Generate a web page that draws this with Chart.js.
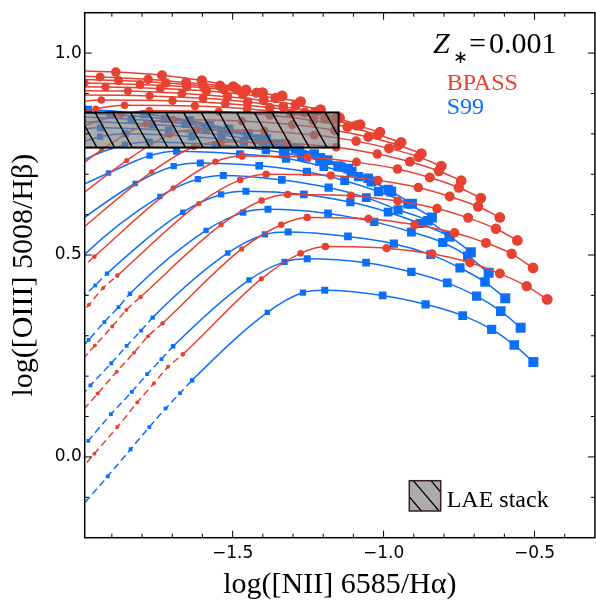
<!DOCTYPE html>
<html>
<head>
<meta charset="utf-8">
<script src="https://cdn.jsdelivr.net/npm/chart.js@4.4.1/dist/chart.umd.min.js"></script>
<style>
  html, body { margin: 0; padding: 0; background: #fff; overflow: hidden; }
  canvas { display: block; }
</style>
</head>
<body>
<canvas id="bpt" width="602" height="603"></canvas>
<script>
// BPASS model tracks (red), [log NII/Ha, log OIII/Hb], lowest track first
const bpass1 = [[-2.03,-0.055],[-1.958,0.008],[-1.882,0.074],[-1.816,0.135],[-1.761,0.182],[-1.714,0.223],[-1.665,0.254],[-1.405,0.441],[-1.275,0.504],[-1.193,0.521],[-0.990,0.517],[-0.840,0.503],[-0.714,0.481],[-0.615,0.454],[-0.526,0.423],[-0.458,0.390]];
const bpass2 = [[-2.017,0.098],[-1.947,0.157],[-1.884,0.211],[-1.827,0.258],[-1.780,0.299],[-1.732,0.331],[-1.470,0.515],[-1.339,0.575],[-1.253,0.593],[-1.050,0.590],[-0.897,0.575],[-0.765,0.555],[-0.661,0.530],[-0.576,0.503],[-0.505,0.468]];
const bpass3 = [[-2.020,0.222],[-1.956,0.276],[-1.899,0.323],[-1.852,0.364],[-1.805,0.396],[-1.538,0.575],[-1.404,0.635],[-1.318,0.650],[-1.108,0.647],[-0.953,0.634],[-0.823,0.615],[-0.720,0.592],[-0.628,0.565],[-0.557,0.536]];
const bpass4 = [[-2.033,0.330],[-1.976,0.377],[-1.929,0.418],[-1.882,0.449],[-1.612,0.627],[-1.475,0.686],[-1.389,0.700],[-1.175,0.697],[-1.018,0.685],[-0.885,0.667],[-0.781,0.645],[-0.687,0.620],[-0.615,0.593]];
const bpass5 = [[-2.006,0.464],[-1.958,0.496],[-1.697,0.666],[-1.557,0.731],[-1.469,0.745],[-1.251,0.742],[-1.090,0.730],[-0.954,0.713],[-0.847,0.692],[-0.751,0.667],[-0.678,0.641]];
const bpass6 = [[-2.034,0.543],[-1.768,0.706],[-1.628,0.768],[-1.538,0.780],[-1.319,0.777],[-1.157,0.767],[-1.021,0.750],[-0.913,0.731],[-0.817,0.708],[-0.743,0.684]];
const bpass7 = [[-2.113,0.583],[-1.851,0.734],[-1.708,0.798],[-1.618,0.810],[-1.395,0.807],[-1.230,0.797],[-1.091,0.782],[-0.982,0.764],[-0.884,0.743],[-0.809,0.720]];
const bpass8 = [[-2.195,0.607],[-1.933,0.761],[-1.788,0.824],[-1.696,0.835],[-1.470,0.832],[-1.302,0.823],[-1.162,0.809],[-1.051,0.792],[-0.951,0.772],[-0.875,0.751]];
const bpass9 = [[-2.280,0.660],[-2.017,0.810],[-1.870,0.847],[-1.776,0.857],[-1.546,0.855],[-1.376,0.846],[-1.233,0.833],[-1.120,0.817],[-1.019,0.798],[-0.942,0.779]];
const bpass10 = [[-2.102,0.830],[-1.953,0.862],[-1.858,0.871],[-1.625,0.869],[-1.452,0.862],[-1.307,0.850],[-1.193,0.837],[-1.090,0.821],[-1.012,0.804]];
const bpass11 = [[-2.183,0.847],[-2.032,0.876],[-1.935,0.884],[-1.699,0.882],[-1.524,0.875],[-1.377,0.865],[-1.261,0.853],[-1.158,0.838],[-1.078,0.823]];
const bpass12 = [[-2.113,0.889],[-2.015,0.896],[-1.775,0.894],[-1.598,0.888],[-1.450,0.879],[-1.332,0.867],[-1.227,0.854],[-1.146,0.840]];
const bpass13 = [[-2.189,0.901],[-2.090,0.907],[-1.847,0.906],[-1.668,0.900],[-1.517,0.892],[-1.397,0.883],[-1.291,0.872],[-1.209,0.860]];
const bpass14 = [[-2.167,0.917],[-1.921,0.916],[-1.740,0.912],[-1.587,0.906],[-1.466,0.898],[-1.358,0.889],[-1.275,0.880]];
const bpass15 = [[-2.240,0.927],[-1.991,0.926],[-1.807,0.922],[-1.652,0.917],[-1.529,0.910],[-1.420,0.902],[-1.336,0.894]];
const bpass16 = [[-2.317,0.937],[-2.064,0.936],[-1.878,0.932],[-1.721,0.926],[-1.597,0.919],[-1.486,0.911],[-1.401,0.902]];
const bpass17 = [[-2.383,0.946],[-2.128,0.945],[-1.939,0.941],[-1.780,0.935],[-1.654,0.927],[-1.542,0.919],[-1.456,0.909]];
const bpass18 = [[-2.200,0.956],[-2.030,0.956],[-1.887,0.953],[-1.734,0.945],[-1.602,0.932],[-1.498,0.917]];

// Starburst99 model tracks (blue)
const s99_1 = [[-2.06,-0.174],[-1.914,-0.048],[-1.838,0.019],[-1.776,0.074],[-1.722,0.120],[-1.674,0.158],[-1.634,0.190],[-1.385,0.358],[-1.267,0.407],[-1.195,0.413],[-1.003,0.400],[-0.861,0.378],[-0.738,0.350],[-0.642,0.316],[-0.567,0.277],[-0.504,0.235]];
const s99_2 = [[-2.05,-0.023],[-1.978,0.040],[-1.903,0.106],[-1.834,0.161],[-1.783,0.205],[-1.736,0.242],[-1.697,0.274],[-1.446,0.438],[-1.328,0.483],[-1.253,0.491],[-1.058,0.481],[-0.908,0.458],[-0.789,0.431],[-0.692,0.398],[-0.612,0.361],[-0.546,0.320]];
const s99_3 = [[-2.046,0.110],[-1.971,0.177],[-1.902,0.232],[-1.851,0.275],[-1.803,0.313],[-1.765,0.345],[-1.516,0.505],[-1.393,0.551],[-1.316,0.557],[-1.118,0.546],[-0.966,0.528],[-0.844,0.501],[-0.747,0.468],[-0.664,0.433],[-0.597,0.393]];
const s99_4 = [[-2.046,0.235],[-1.977,0.290],[-1.925,0.334],[-1.878,0.371],[-1.840,0.404],[-1.588,0.561],[-1.465,0.605],[-1.383,0.613],[-1.184,0.603],[-1.031,0.582],[-0.908,0.557],[-0.804,0.531],[-0.721,0.497],[-0.652,0.456]];
const s99_5 = [[-2.003,0.392],[-1.955,0.425],[-1.916,0.454],[-1.665,0.606],[-1.538,0.650],[-1.456,0.658],[-1.264,0.650],[-1.110,0.631],[-0.985,0.606],[-0.879,0.578],[-0.782,0.546],[-0.711,0.507]];
const s99_6 = [[-2.033,0.466],[-1.994,0.499],[-1.741,0.645],[-1.615,0.688],[-1.531,0.697],[-1.337,0.686],[-1.182,0.667],[-1.057,0.642],[-0.952,0.612],[-0.853,0.585],[-0.781,0.546]];
const s99_7 = [[-2.070,0.551],[-1.823,0.677],[-1.695,0.720],[-1.607,0.728],[-1.412,0.721],[-1.254,0.706],[-1.129,0.684],[-1.017,0.657],[-0.919,0.627],[-0.840,0.593]];
const s99_8 = [[-2.150,0.620],[-1.911,0.703],[-1.775,0.746],[-1.686,0.757],[-1.476,0.750],[-1.323,0.739],[-1.198,0.719],[-1.083,0.694],[-0.985,0.662],[-0.906,0.627]];
const s99_9 = [[-2.250,0.620],[-2.000,0.733],[-1.857,0.773],[-1.776,0.780],[-1.557,0.773],[-1.390,0.760],[-1.256,0.742],[-1.141,0.718],[-1.051,0.690],[-0.975,0.657]];
const s99_10 = [[-2.085,0.755],[-1.939,0.793],[-1.856,0.800],[-1.634,0.793],[-1.463,0.781],[-1.326,0.763],[-1.209,0.741],[-1.117,0.714],[-1.040,0.682]];
const s99_11 = [[-2.171,0.774],[-2.022,0.808],[-1.938,0.815],[-1.711,0.808],[-1.537,0.797],[-1.398,0.781],[-1.279,0.760],[-1.185,0.735],[-1.106,0.706]];
const s99_12 = [[-2.235,0.788],[-2.083,0.823],[-1.997,0.830],[-1.766,0.823],[-1.589,0.812],[-1.447,0.796],[-1.326,0.775],[-1.230,0.750],[-1.150,0.720]];
const s99_13 = [[-2.156,0.836],[-2.069,0.843],[-1.835,0.836],[-1.656,0.825],[-1.511,0.809],[-1.388,0.788],[-1.291,0.763],[-1.210,0.733]];
const s99_14 = [[-2.145,0.855],[-1.906,0.848],[-1.724,0.837],[-1.577,0.821],[-1.451,0.800],[-1.353,0.775],[-1.270,0.745]];
const s99_15 = [[-2.220,0.867],[-1.978,0.860],[-1.792,0.849],[-1.642,0.833],[-1.515,0.812],[-1.414,0.787],[-1.330,0.757]];

// LAE stack measurement (shaded box)
const laeStackX = [-2.05, -1.149];
const laeStackY = [0.766, 0.853];

const xTicks = [-1.5, -1.0, -0.5];
const yTicks = [0.0, 0.5, 1.0];

const RED = 'rgb(231,65,49)';
const BLUE = 'rgb(12,111,250)';
const BOX_FILL = 'rgba(128,128,128,0.65)';

const bpassTracks = [bpass1, bpass2, bpass3, bpass4, bpass5, bpass6, bpass7, bpass8, bpass9,
  bpass10, bpass11, bpass12, bpass13, bpass14, bpass15, bpass16, bpass17, bpass18];
const s99Tracks = [s99_1, s99_2, s99_3, s99_4, s99_5, s99_6, s99_7, s99_8, s99_9,
  s99_10, s99_11, s99_12, s99_13, s99_14, s99_15];

// marker size grows along each track (counted from the track's last point)
const dotR = [5.4, 5.2, 5.0, 4.8, 4.5, 4.2, 3.8, 3.3, 2.6, 2.3];
const sqSide = [10, 9.6, 9.2, 8.8, 8.3, 7.7, 7, 6.3, 5.4, 4.4];

function markerRadius(style, k) {
  if (style === 'rect') return (k < sqSide.length ? sqSide[k] : 3.8) * Math.SQRT1_2;
  return k < dotR.length ? dotR[k] : 2.0;
}

function track(points, color, style) {
  const n = points.length;
  return {
    data: points.map(p => ({ x: p[0], y: p[1] })),
    borderColor: color,
    backgroundColor: color,
    borderWidth: 1.5,
    fill: false,
    pointStyle: style,
    pointBackgroundColor: color,
    pointBorderWidth: 0,
    pointRadius: ctx => markerRadius(style, n - 1 - ctx.dataIndex),
    cubicInterpolationMode: 'monotone',
    segment: {
      borderDash: ctx => (n - 1 - ctx.p0DataIndex) >= 10 ? [7, 4] : undefined
    }
  };
}

function hatch(ctx, x0, y0, w, h, anchor, gap, slant, width) {
  ctx.save();
  ctx.beginPath();
  ctx.rect(x0, y0, w, h);
  ctx.clip();
  ctx.beginPath();
  let sx = anchor;
  while (sx > x0 - h * slant) sx -= gap;
  for (; sx < x0 + w; sx += gap) {
    ctx.moveTo(sx, y0);
    ctx.lineTo(sx + h * slant, y0 + h);
  }
  ctx.strokeStyle = '#000';
  ctx.lineWidth = width;
  ctx.stroke();
  ctx.restore();
}

const fmt = v => (v < 0 ? '\u2212' : '') + Math.abs(v).toFixed(1);

const framePlugin = {
  id: 'frame',
  afterDatasetsDraw(chart) {
    const { ctx, chartArea: a, scales: { x, y } } = chart;
    const bx0 = x.getPixelForValue(laeStackX[0]);
    const bx1 = x.getPixelForValue(laeStackX[1]);
    const by0 = y.getPixelForValue(laeStackY[1]);
    const by1 = y.getPixelForValue(laeStackY[0]);
    ctx.save();
    ctx.beginPath();
    ctx.rect(a.left, a.top, a.right - a.left, a.bottom - a.top);
    ctx.clip();
    ctx.fillStyle = BOX_FILL;
    ctx.fillRect(bx0, by0, bx1 - bx0, by1 - by0);
    hatch(ctx, bx0, by0, bx1 - bx0, by1 - by0, a.left + 10.3, 17.7, 0.56, 1.4);
    ctx.lineWidth = 2;
    ctx.strokeStyle = '#000';
    ctx.strokeRect(bx0, by0, bx1 - bx0, by1 - by0);
    ctx.restore();
  },
  afterDraw(chart) {
    const { ctx, chartArea: a, scales: { x, y } } = chart;
    ctx.save();
    // inward ticks on all four sides
    ctx.strokeStyle = '#000';
    ctx.lineWidth = 1;
    ctx.beginPath();
    for (let i = -25; i <= 0; i++) {
      const v = i / 10;
      if (v <= x.min + 1e-9 || v >= x.max - 1e-9) continue;
      const px = x.getPixelForValue(v);
      const len = xTicks.some(t => Math.abs(t - v) < 1e-6) ? 7 : 4;
      ctx.moveTo(px, a.bottom); ctx.lineTo(px, a.bottom - len);
      ctx.moveTo(px, a.top); ctx.lineTo(px, a.top + len);
    }
    for (let i = -5; i <= 15; i++) {
      const v = i / 10;
      if (v <= y.min + 1e-9 || v >= y.max - 1e-9) continue;
      const py = y.getPixelForValue(v);
      const len = yTicks.some(t => Math.abs(t - v) < 1e-6) ? 7 : 4;
      ctx.moveTo(a.left, py); ctx.lineTo(a.left + len, py);
      ctx.moveTo(a.right, py); ctx.lineTo(a.right - len, py);
    }
    ctx.stroke();
    ctx.lineWidth = 1.5;
    ctx.strokeRect(a.left, a.top, a.right - a.left, a.bottom - a.top);

    // annotations
    ctx.textAlign = 'left';
    ctx.textBaseline = 'alphabetic';
    ctx.fillStyle = '#000';
    ctx.font = 'italic 30px "Liberation Serif"';
    ctx.fillText('Z', 433, 53);
    ctx.font = '18px "DejaVu Sans"';
    ctx.fillText('\u2217', 453, 63);
    ctx.font = '30px "Liberation Serif"';
    ctx.fillText('=', 469, 53);
    ctx.fillText('0.001', 489, 53);
    ctx.font = '24px "Liberation Serif"';
    ctx.fillStyle = RED;
    ctx.fillText('BPASS', 446.7, 89.5);
    ctx.fillStyle = BLUE;
    ctx.fillText('S99', 446.7, 113.5);

    // legend entry for the LAE stack
    const lx = 409.3, ly = 480.7, lw = 31.4, lh = 30.3;
    ctx.fillStyle = BOX_FILL;
    ctx.fillRect(lx, ly, lw, lh);
    hatch(ctx, lx, ly, lw, lh, lx + 4, 17.7, 0.85, 1.3);
    ctx.strokeStyle = '#3c1e1e';
    ctx.lineWidth = 1.5;
    ctx.strokeRect(lx, ly, lw, lh);
    ctx.fillStyle = '#000';
    ctx.font = '24px "Liberation Serif"';
    ctx.fillText('LAE stack', 446.7, 507);
    ctx.restore();
  }
};

const datasets = bpassTracks.map(t => track(t, RED, 'circle'))
  .concat(s99Tracks.map(t => track(t, BLUE, 'rect')));

new Chart(document.getElementById('bpt'), {
  type: 'line',
  data: { datasets: datasets },
  options: {
    responsive: false,
    animation: false,
    events: [],
    layout: { padding: { left: 0, top: 12.7, right: 3.5, bottom: 0 } },
    plugins: { legend: { display: false }, tooltip: { enabled: false } },
    scales: {
      x: {
        type: 'linear',
        min: -1.99,
        max: -0.3,
        afterBuildTicks: s => { s.ticks = xTicks.map(v => ({ value: v })); },
        afterFit: s => { s.height = 65.3; },
        grid: { display: false, drawTicks: false },
        border: { display: false },
        ticks: { font: { family: 'DejaVu Sans', size: 17 }, color: '#000', padding: 6, maxRotation: 0, autoSkip: false, callback: fmt },
        title: { display: true, text: 'log([NII] 6585/H\u03b1)', color: '#000', font: { family: 'Liberation Serif', size: 30 }, padding: { top: 0, bottom: 0 } }
      },
      y: {
        type: 'linear',
        min: -0.2,
        max: 1.1,
        afterBuildTicks: s => { s.ticks = yTicks.map(v => ({ value: v })); },
        afterFit: s => { s.width = 84.7; },
        grid: { display: false, drawTicks: false },
        border: { display: false },
        ticks: { font: { family: 'DejaVu Sans', size: 17, lineHeight: 1 }, color: '#000', padding: 3, callback: fmt },
        title: { display: true, text: 'log([OIII] 5008/H\u03b2)', color: '#000', font: { family: 'Liberation Serif', size: 30 }, padding: { top: 6, bottom: 0 } }
      }
    }
  },
  plugins: [framePlugin]
});
</script>
</body>
</html>
